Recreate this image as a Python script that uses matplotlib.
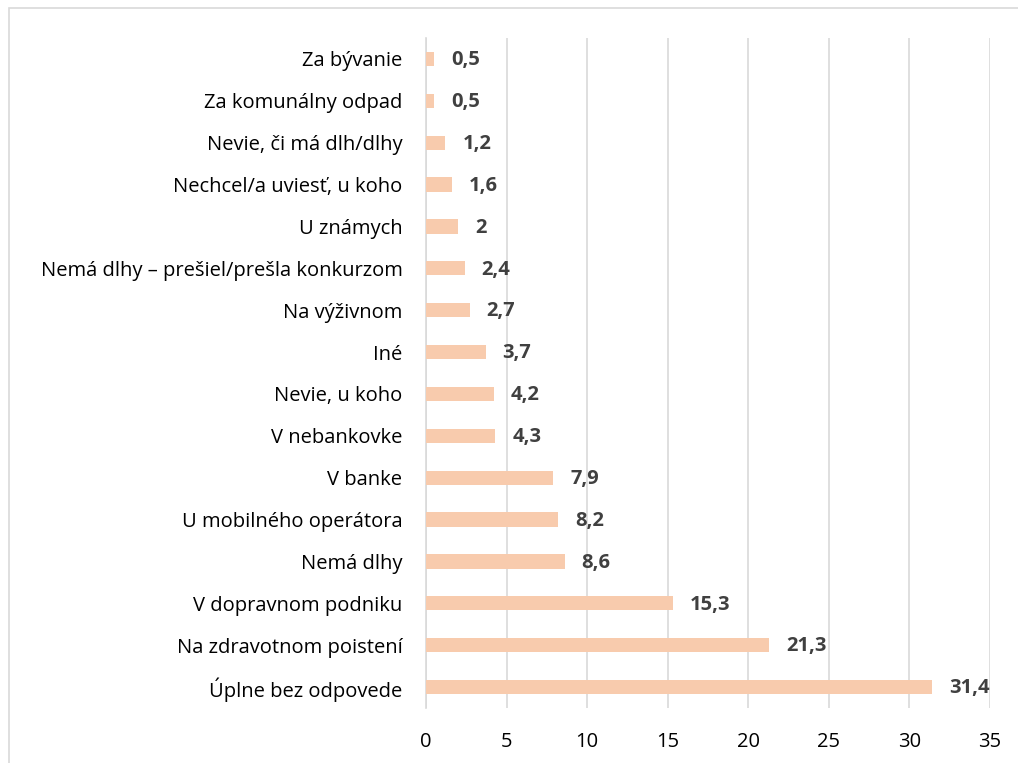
import matplotlib
matplotlib.use("Agg")
import matplotlib.pyplot as plt
from matplotlib.patches import Rectangle

categories = [
    "Za bývanie",
    "Za komunálny odpad",
    "Nevie, či má dlh/dlhy",
    "Nechcel/a uviesť, u koho",
    "U známych",
    "Nemá dlhy – prešiel/prešla konkurzom",
    "Na výživnom",
    "Iné",
    "Nevie, u koho",
    "V nebankovke",
    "V banke",
    "U mobilného operátora",
    "Nemá dlhy",
    "V dopravnom podniku",
    "Na zdravotnom poistení",
    "Úplne bez odpovede",
]
values = [0.5, 0.5, 1.2, 1.6, 2, 2.4, 2.7, 3.7, 4.2, 4.3, 7.9, 8.2, 8.6, 15.3, 21.3, 31.4]
value_labels = ["0,5", "0,5", "1,2", "1,6", "2", "2,4", "2,7", "3,7", "4,2", "4,3",
                "7,9", "8,2", "8,6", "15,3", "21,3", "31,4"]
xticks = [0, 5, 10, 15, 20, 25, 30, 35]

plt.rcParams["font.family"] = ["Open Sans", "DejaVu Sans"]

fig = plt.figure(figsize=(10.18, 7.63), dpi=100)
ax = fig.add_axes([426 / 1018, 1 - 708 / 763, 564 / 1018, 670 / 763])

# chart frame
fig.patches.append(Rectangle((9 / 1018, -0.1), 1.2, 1 - 8 / 763 + 0.1,
                             transform=fig.transFigure, fill=False,
                             edgecolor="#D9D9D9", linewidth=1.2))

pos = list(range(len(categories)))
ax.barh(pos, values, height=0.34, color="#F8CBAD", zorder=3)
for p, v, lab in zip(pos, values, value_labels):
    ax.text(v + 1.05, p + 0.03, lab, va="center", ha="left", fontsize=14.5,
            fontweight="bold", color="#404040")

ax.set_ylim(len(categories) - 0.5, -0.5)
ax.set_xlim(0, 35)
ax.set_xticks(xticks)
ax.set_yticks(pos)
ax.set_yticklabels(categories)
ax.grid(axis="x", color="#D9D9D9", linewidth=1.2, zorder=0)
for s in ["top", "right", "bottom"]:
    ax.spines[s].set_visible(False)
ax.spines["left"].set_color("#D9D9D9")
ax.spines["left"].set_linewidth(1.2)
ax.tick_params(axis="y", length=0, pad=17, labelsize=14.5, labelcolor="#000000")
ax.tick_params(axis="x", length=0, pad=17, labelsize=14.5, labelcolor="#000000")

fig.savefig("out.png", dpi=100)
